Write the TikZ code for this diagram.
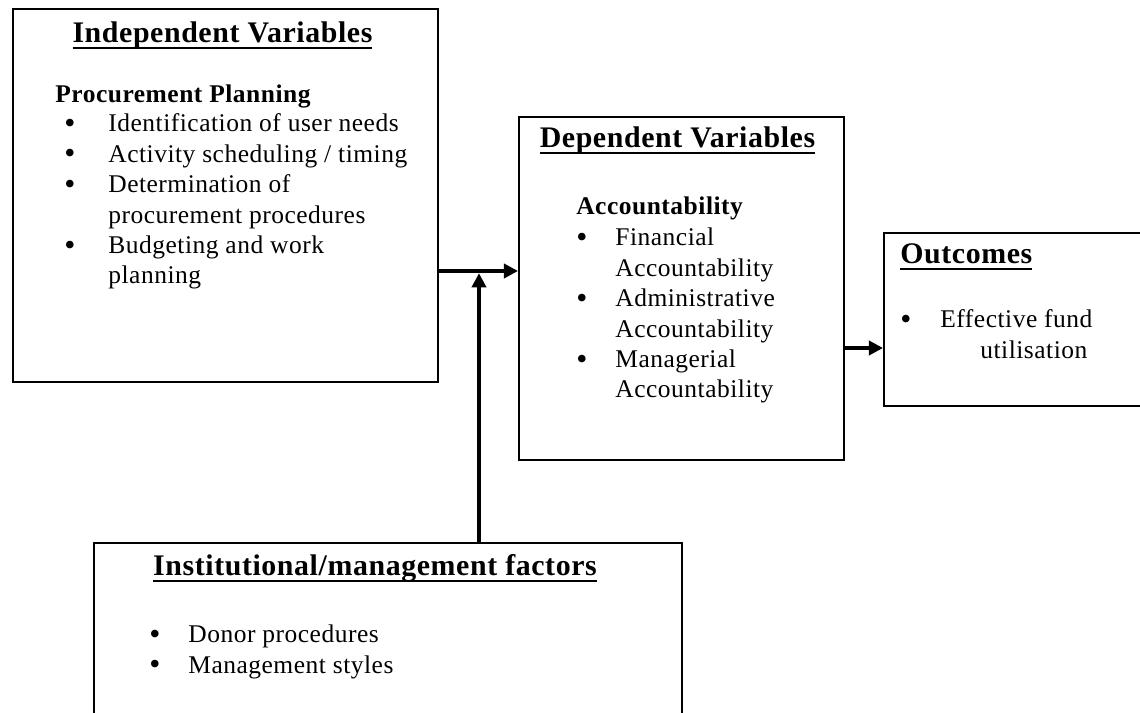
\documentclass[tikz,border=0pt]{standalone}
\usepackage{fontspec}
\setmainfont{Liberation Serif}[LetterSpace=2]
\usetikzlibrary{arrows.meta}

% bold heading with a heavy rule under it
\newcommand{\ulhead}[1]{\sbox0{#1}\rlap{\rule[-3.4pt]{\wd0}{1.4pt}}\usebox0}
% heavier list bullet
\newcommand{\blt}{\smash{\raisebox{-0.9pt}{\fontsize{18pt}{0pt}\selectfont\textbullet}}}

\begin{document}
\begin{tikzpicture}[
    box/.style={draw=black,line width=0.9pt,rectangle,inner sep=0pt,anchor=north west},
    flow/.style={line width=2.3pt,-{Triangle[length=8pt,width=8pt]}},
    heading/.style={anchor=base,inner sep=0pt,font=\fontsize{17pt}{19pt}\selectfont\bfseries},
    subhead/.style={anchor=base west,inner sep=0pt,font=\fontsize{14.5pt}{17.3pt}\selectfont\bfseries},
    itemlist/.style={anchor=base west,inner sep=0pt,font=\fontsize{14.5pt}{17.3pt}\selectfont}]
      \useasboundingbox (0,0) rectangle (22.8,14.26);
      \clip (0,0) rectangle (22.8,14.26);
      % the four boxes
      \node[box,minimum width=8.5cm,minimum height=7.46cm] (indep) at (0.24,14.10) {};
      \node[box,minimum width=6.5cm,minimum height=6.86cm] (dep) at (10.36,11.94) {};
      \node[box,minimum width=6cm,minimum height=3.46cm] (out) at (17.66,9.62) {};
      \node[box,minimum width=11.76cm,minimum height=4cm] (inst) at (1.86,3.42) {};
      % independent variables
      \node[heading] (indep-title) at (4.45,13.40) {\ulhead{Independent Variables}};
      \node[subhead] (indep-sub) at (1.10,12.20) {Procurement Planning};
      \node[itemlist] (indep-list) at (1.28,11.62) {\begin{tabular}[t]{@{}p{0.88cm}@{}l@{}}
          \blt & Identification of user needs\\
          \blt & Activity scheduling / timing\\
          \blt & Determination of\\
               & procurement procedures\\
          \blt & Budgeting and work\\
               & planning
        \end{tabular}};
      % dependent variables
      \node[heading] (dep-title) at (13.55,11.30) {\ulhead{Dependent Variables}};
      \node[subhead] (dep-sub) at (11.52,9.96) {Accountability};
      \node[itemlist] (dep-list) at (11.52,9.34) {\begin{tabular}[t]{@{}p{0.78cm}@{}l@{}}
          \blt & Financial\\
               & Accountability\\
          \blt & Administrative\\
               & Accountability\\
          \blt & Managerial\\
               & Accountability
        \end{tabular}};
      % outcomes
      \node[heading,anchor=base west] (out-title) at (18.0,8.98) {\ulhead{Outcomes}};
      \node[itemlist] (out-list) at (18.0,7.70) {\begin{tabular}[t]{@{}p{0.80cm}@{}l@{}}
          \blt & Effective fund\\
               & \hspace*{0.8cm}utilisation
        \end{tabular}};
      % institutional factors
      \node[heading] (inst-title) at (7.5,2.74) {\ulhead{Institutional/management factors}};
      \node[itemlist] (inst-list) at (2.98,1.40) {\begin{tabular}[t]{@{}p{0.78cm}@{}l@{}}
          \blt & Donor procedures\\
          \blt & Management styles
        \end{tabular}};
      % connectors
      \coordinate (meet) at (9.58,8.84);
      \coordinate (link) at (17.2,7.30);
      \draw[flow] (indep.east |- meet) -- (dep.west |- meet);
      \draw[flow] (inst.north -| meet) -- ([yshift=-0.045cm]meet);
      \draw[flow] (dep.east |- link) -- (out.west |- link);
    \end{tikzpicture}
\end{document}
